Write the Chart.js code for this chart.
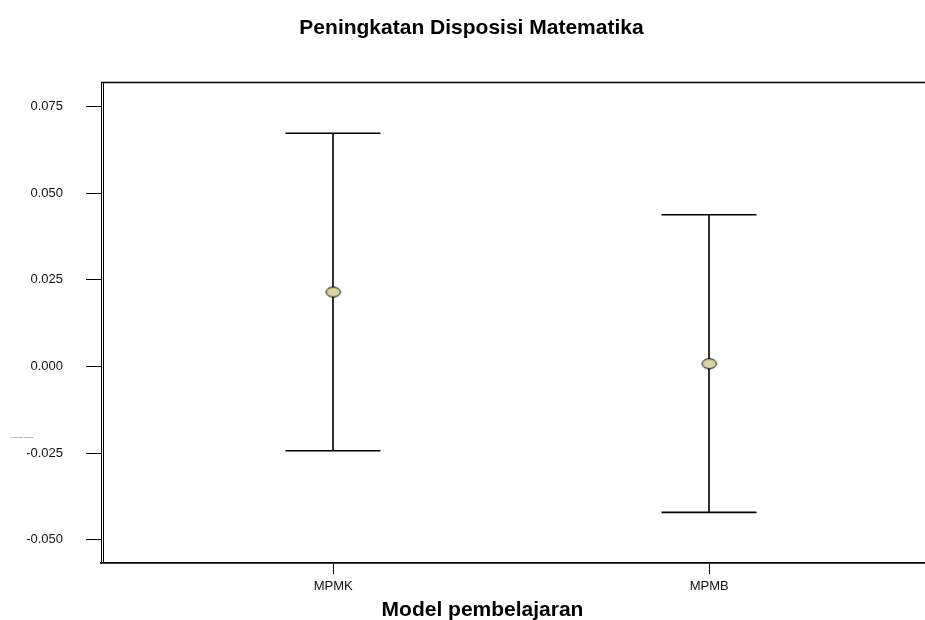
<!DOCTYPE html>
<html>
<head>
<meta charset="utf-8">
<script src="https://cdn.jsdelivr.net/npm/chart.js@4.4.1/dist/chart.umd.min.js"></script>
<style>
  html, body { margin: 0; padding: 0; background: #fff; }
  #wrap { width: 925px; height: 620px; position: relative; }
</style>
</head>
<body>
<div id="wrap"><canvas id="c"></canvas></div>
<script>
// Group means with their interval limits
const categories = ['MPMK', 'MPMB'];
const means = [0.0215, 0.0008];
const upperLimits = [0.0673, 0.0438];
const lowerLimits = [-0.0243, -0.0421];
const yTickValues = [-0.050, -0.025, 0.000, 0.025, 0.050, 0.075];

const chartTitle = 'Peningkatan Disposisi Matematika';
const xAxisTitle = 'Model pembelajaran';
const yAxisTitle = 'Peningkatan Disposisi';

const FONT = '"Liberation Sans", Arial, Helvetica, sans-serif';

// Ellipse marker used for the means
function makeEllipse() {
  const cv = document.createElement('canvas');
  cv.width = 18; cv.height = 13;
  const g = cv.getContext('2d');
  g.beginPath();
  g.ellipse(9, 6.5, 7.2, 5.0, 0, 0, Math.PI * 2);
  g.fillStyle = '#d9d3a0';
  g.fill();
  g.lineWidth = 1;
  g.strokeStyle = '#000';
  g.stroke();
  return cv;
}

// Whiskers and caps, positioned through the chart scales
const errorBars = {
  id: 'errorBars',
  beforeDatasetsDraw(chart) {
    const { ctx, scales: { x, y } } = chart;
    const half = 47.5;
    ctx.save();
    ctx.strokeStyle = '#000';
    ctx.lineWidth = 1.6;
    categories.forEach((c, i) => {
      const px = Math.round(x.getPixelForValue(i + 1));
      const top = y.getPixelForValue(upperLimits[i]);
      const bot = y.getPixelForValue(lowerLimits[i]);
      ctx.beginPath();
      ctx.moveTo(px, top); ctx.lineTo(px, bot);
      ctx.moveTo(px - half, top); ctx.lineTo(px + half, top);
      ctx.moveTo(px - half, bot); ctx.lineTo(px + half, bot);
      ctx.stroke();
    });
    ctx.restore();
  }
};

// Frame lines, axis title and the small side label
const frame = {
  id: 'frame',
  afterDraw(chart) {
    const { ctx, chartArea: a } = chart;
    ctx.save();
    ctx.strokeStyle = '#000';
    ctx.lineWidth = 1.3;
    ctx.beginPath();
    ctx.moveTo(a.left, a.top + 0.5);
    ctx.lineTo(chart.width, a.top + 0.5);
    ctx.stroke();
    ctx.lineWidth = 1;
    ctx.beginPath();
    ctx.moveTo(a.left + 2.5, a.top);
    ctx.lineTo(a.left + 2.5, a.bottom);
    ctx.stroke();

    ctx.fillStyle = '#000';
    ctx.font = 'bold 21px ' + FONT;
    ctx.textAlign = 'center';
    ctx.textBaseline = 'middle';
    ctx.fillText(xAxisTitle, a.left + 381.5, 610.5);

    ctx.fillStyle = '#555';
    ctx.font = '2.4px ' + FONT;
    ctx.textAlign = 'left';
    ctx.fillText(yAxisTitle, 10, 437.5);
    ctx.restore();
  }
};

new Chart(document.getElementById('c'), {
  type: 'scatter',
  data: {
    datasets: [{
      data: means.map((m, i) => ({ x: i + 1, y: m })),
      pointStyle: makeEllipse(),
      pointRadius: 7,
      pointHoverRadius: 7,
      showLine: false
    }]
  },
  options: {
    responsive: true,
    maintainAspectRatio: false,
    animation: false,
    events: [],
    layout: { autoPadding: false, padding: { left: 18, right: 0, top: 0, bottom: 0 } },
    plugins: {
      legend: { display: false },
      tooltip: { enabled: false },
      title: {
        display: true,
        text: chartTitle,
        color: '#000',
        font: { family: FONT, size: 21, weight: 'bold' },
        padding: { top: 16, bottom: 40.8 }
      }
    },
    scales: {
      x: {
        type: 'linear',
        min: 0.3822,
        max: 2.5737,
        afterFit(scale) {
          scale.height = 57;
          scale.paddingLeft = 0;
          scale.paddingRight = 0;
        },
        afterBuildTicks(scale) {
          scale.ticks = categories.map((c, i) => ({ value: i + 1 }));
        },
        ticks: {
          callback: (v) => categories[Math.round(v) - 1] || '',
          color: '#111',
          font: { family: FONT, size: 13 },
          padding: 5,
          maxRotation: 0,
          autoSkip: false
        },
        grid: { drawOnChartArea: false, drawTicks: true, tickLength: 11, color: '#000', lineWidth: 1 },
        border: { display: true, color: '#000', width: 1.8 }
      },
      y: {
        type: 'linear',
        min: -0.0567,
        max: 0.0821,
        afterFit(scale) { scale.width = 83; },
        afterBuildTicks(scale) {
          scale.ticks = yTickValues.map(v => ({ value: v }));
        },
        ticks: {
          callback: (v) => v.toFixed(3),
          color: '#111',
          font: { family: FONT, size: 13 },
          padding: 23
        },
        grid: { drawOnChartArea: false, drawTicks: true, tickLength: 15, color: '#000', lineWidth: 1 },
        border: { display: true, color: '#000', width: 1 }
      }
    }
  },
  plugins: [errorBars, frame]
});
</script>
</body>
</html>
